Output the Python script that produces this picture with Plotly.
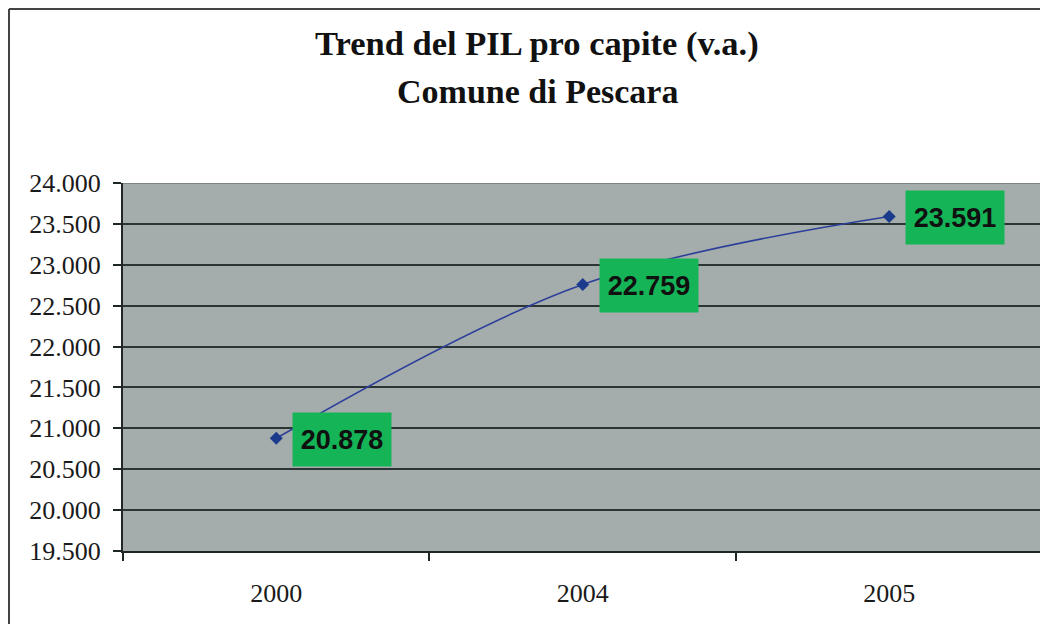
import plotly.graph_objects as go

years = ["2000", "2004", "2005"]
pil = [20878, 22759, 23591]
labels = ["20.878", "22.759", "23.591"]
title1 = "Trend del PIL pro capite (v.a.)"
title2 = "Comune di Pescara"

SERIF = "Liberation Serif"
SANS = "Liberation Sans"

W, H = 1040, 624
L, T, B, R = 123, 183, 73, 0
pw = W - L - R
ph = H - T - B

fig = go.Figure()
fig.add_trace(go.Scatter(
    x=years, y=pil, mode="lines+markers",
    line=dict(color="#2c3f9a", width=1.6, shape="spline"),
    marker=dict(symbol="diamond", size=10, color="#1d3b8c"),
    hoverinfo="skip", showlegend=False,
))

for i, (y, t) in enumerate(zip(pil, labels)):
    fig.add_annotation(
        x=i, y=y, xref="x", yref="y", text="<b>" + t + "</b>", showarrow=False,
        xanchor="left", yanchor="middle", xshift=16, yshift=-1,
        font=dict(family=SANS, size=27, color="#101010"),
        bgcolor="#14b457", width=84, height=39, borderpad=7,
    )

tx = (537 - L) / pw
fig.add_annotation(text="<b>" + title1 + "</b>", xref="paper", yref="paper",
                   x=tx, y=1 + (T - 44) / ph, showarrow=False,
                   xanchor="center", yanchor="middle",
                   font=dict(family=SERIF, size=34.5, color="#111111"))
fig.add_annotation(text="<b>" + title2 + "</b>", xref="paper", yref="paper",
                   x=tx, y=1 + (T - 91) / ph, showarrow=False,
                   xanchor="center", yanchor="middle",
                   font=dict(family=SERIF, size=34, color="#111111"))

# chart frame (left and top border)
fx = (9 - L) / pw
fy = 1 + (T - 9) / ph
fig.add_shape(type="line", xref="paper", yref="paper", x0=fx, x1=fx, y0=-0.5, y1=fy,
              line=dict(color="#444444", width=2))
fig.add_shape(type="line", xref="paper", yref="paper", x0=fx, x1=1.2, y0=fy, y1=fy,
              line=dict(color="#444444", width=2))
# lighter top edge of plot area
fig.add_shape(type="line", xref="paper", yref="y", x0=0, x1=1, y0=24000, y1=24000,
              line=dict(color="#7c8485", width=2), layer="above")

fig.update_layout(
    width=W, height=H,
    margin=dict(l=L, r=R, t=T, b=B, pad=0),
    paper_bgcolor="white", plot_bgcolor="#a4acac",
    separators=",.",
    showlegend=False,
)
fig.update_xaxes(
    type="category", range=[-0.5, 2.492],
    showgrid=False, showline=True, linecolor="#1e2626", linewidth=2,
    ticks="outside", tickson="boundaries", ticklen=8, tickwidth=2, tickcolor="#1e2626",
    tickfont=dict(family=SERIF, size=26, color="#1a1a1a"),
    ticklabelstandoff=18, zeroline=False,
)
fig.update_yaxes(
    range=[19500, 24000], dtick=500, tick0=19500, tickformat=",d",
    showgrid=True, gridcolor="#2b3535", gridwidth=2,
    showline=True, linecolor="#1e2626", linewidth=2,
    ticks="outside", ticklen=8, tickwidth=2, tickcolor="#1e2626",
    tickfont=dict(family=SERIF, size=26, color="#1a1a1a"),
    ticklabelstandoff=7, zeroline=False,
)

fig.write_html("out.html", config={"displayModeBar": False},
               post_script="document.body.style.margin='0';")
